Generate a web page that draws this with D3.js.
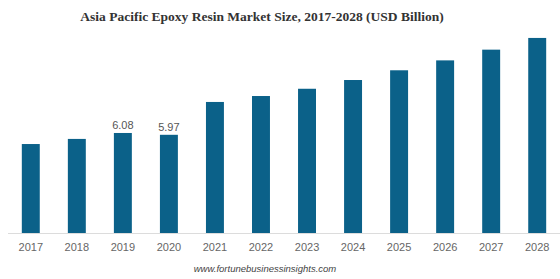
<!DOCTYPE html>
<html>
<head>
<meta charset="utf-8">
<script src="https://cdn.jsdelivr.net/npm/d3@7"></script>
<style>
html,body{margin:0;padding:0;background:#fff;}
svg{display:block;}
</style>
</head>
<body>
<svg id="chart" width="560" height="279"></svg>
<script>
const years = ["2017","2018","2019","2020","2021","2022","2023","2024","2025","2026","2027","2028"];
const values = [5.41, 5.72, 6.08, 5.97, 7.96, 8.32, 8.76, 9.29, 9.88, 10.48, 11.13, 11.84];
const labeled = {"2019": "6.08", "2020": "5.97"};
const titleText = "Asia Pacific Epoxy Resin Market Size, 2017-2028 (USD Billion)";
const sourceText = "www.fortunebusinessinsights.com";

const svg = d3.select("#chart");
const W = 560, H = 279;
const x = d3.scaleBand().domain(years).range([8, 560]).paddingInner(0.61).paddingOuter(0.3);
const y = d3.scaleLinear().domain([0, 12]).range([233.3, 35.3]);

svg.append("text")
  .attr("x", 262).attr("y", 21)
  .attr("text-anchor", "middle")
  .attr("font-family", "'Liberation Serif','Times New Roman',serif")
  .attr("font-weight", "bold")
  .attr("font-size", 13.5)
  .attr("fill", "#333")
  .text(titleText);

svg.append("g").selectAll("rect")
  .data(years)
  .join("rect")
  .attr("x", d => x(d))
  .attr("width", x.bandwidth())
  .attr("y", (d, i) => y(values[i]))
  .attr("height", (d, i) => y(0) - y(values[i]))
  .attr("fill", "#0b6189");

svg.append("g").selectAll("text")
  .data(years.filter(d => labeled[d]))
  .join("text")
  .attr("x", d => x(d) + x.bandwidth() / 2)
  .attr("y", d => y(values[years.indexOf(d)]) - 4)
  .attr("text-anchor", "middle")
  .attr("font-family", "'Liberation Sans',Arial,sans-serif")
  .attr("font-size", 11)
  .attr("fill", "#555")
  .text(d => labeled[d]);

const xAxis = d3.axisBottom(x).tickSize(0).tickPadding(10);
const gx = svg.append("g").attr("transform", "translate(0,233.5)").call(xAxis);
gx.select(".domain").attr("stroke", "#dcdcdc").attr("d", "M8,0H560");
gx.selectAll("text")
  .attr("font-family", "'Liberation Sans',Arial,sans-serif")
  .attr("font-size", 11)
  .attr("fill", "#666");

svg.append("text")
  .attr("x", 265).attr("y", 272)
  .attr("text-anchor", "middle")
  .attr("font-family", "'Liberation Sans',Arial,sans-serif")
  .attr("font-style", "italic")
  .attr("font-size", 9.5)
  .attr("fill", "#444")
  .text(sourceText);
</script>
</body>
</html>
